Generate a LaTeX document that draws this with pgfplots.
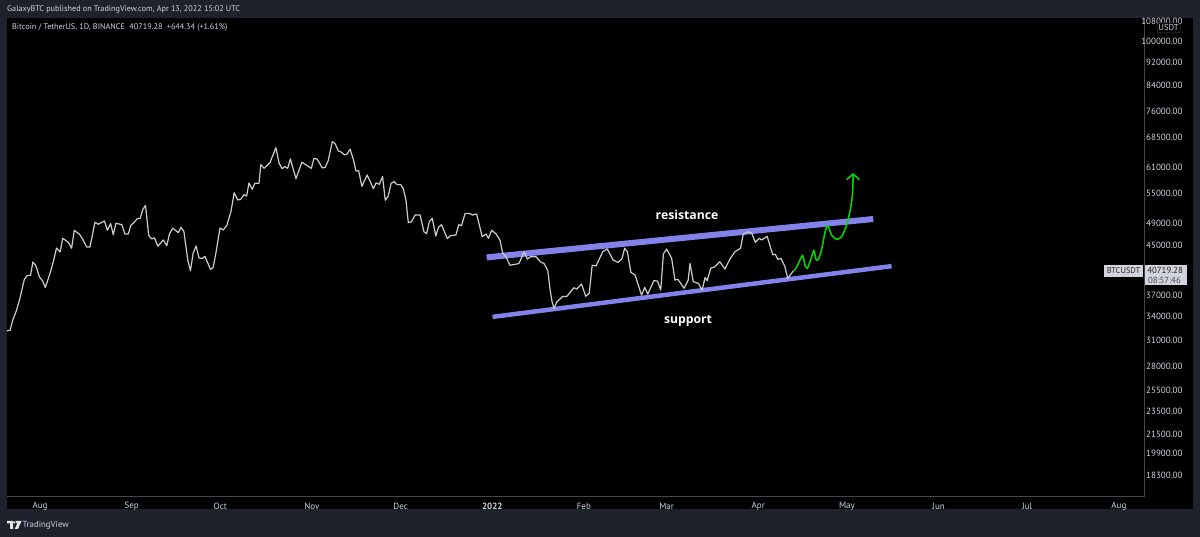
\documentclass[border=0pt]{standalone}
\usepackage{pgfplots}
\usepackage{fontspec}
\setmainfont{PT Sans}
\newfontfamily\boldlabel{Open Sans}
\pgfplotsset{compat=1.18}
\definecolor{framebg}{HTML}{1E222D}
\definecolor{labeltxt}{HTML}{D1D4DC}
\definecolor{axisline}{HTML}{434651}
\definecolor{channel}{HTML}{8282EA}
\definecolor{pricecol}{HTML}{CCCCCC}
\definecolor{greenpath}{HTML}{00DC00}
\begin{document}
\begin{tikzpicture}[x=1pt,y=1pt]
\useasboundingbox (0,0) rectangle (1200,537);
\fill[framebg] (0,0) rectangle (1200,537);
\fill[black] (7,28) rectangle (1193,519);
\begin{axis}[
  at={(7pt,40pt)},anchor=south west,
  scale only axis,width=1137pt,height=479pt,
  xmin=-11.16,xmax=373.5,
  ymode=log,ymin=16796,ymax=109417,
  axis x line*=bottom,axis y line*=right,
  axis line style={draw=axisline,line width=1pt,-},
  major tick length=0pt,minor tick length=0pt,
  xtick={0,31,61,92,122,153,184,212,243,273,304,334,365},
  xticklabels={Aug,Sep,Oct,Nov,Dec,\textbf{2022},Feb,Mar,Apr,May,Jun,Jul,Aug},
  ytick={18300,19900,21500,23500,25500,28000,31000,34000,37000,45000,49000,55000,61000,68500,76000,84000,92000,100000,108000},
  yticklabels={18300.00,19900.00,21500.00,23500.00,25500.00,28000.00,31000.00,34000.00,37000.00,45000.00,49000.00,55000.00,61000.00,68500.00,76000.00,84000.00,92000.00,100000.00,108000.00},
  tick label style={font=\fontsize{9}{10}\selectfont,text=labeltxt},
  yticklabel style={anchor=east,xshift=42pt},
  xticklabel style={anchor=center,yshift=-9pt},
  clip=true,
]
\addplot[channel,line width=6pt] coordinates {(151.1,42880) (281.9,49830)};
\addplot[channel,line width=4.5pt] coordinates {(153.1,33980) (288.1,41440)};
\addplot[pricecol,line width=1.2pt,line join=round] coordinates {
(-11.3,32150)(-10.1,32270)(-9.2,33560)(-7.9,34900)(-6.8,36530)(-5.3,39350)(-4.3,39970)(-3.2,39970)(-2.4,42110)(-1.4,41510)
(-0.2,39750)(0.9,39100)(1.8,38130)(3.4,40280)(4.5,42160)(5.6,44490)(6.8,43800)(7.7,46210)(9.6,45490)(10.7,44440)
(11.6,47680)(13.5,46860)(14.6,45900)(15.8,44660)(16.9,44660)(18.6,49200)(19.7,48820)(21.8,49450)(22.8,47680)(23.9,48940)
(24.8,46860)(25.7,49010)(27.7,48730)(28.7,47000)(29.9,47000)(30.7,48600)(31.8,49130)(32.9,49900)(33.9,49970)(34.7,51620)
(35.7,52570)(36.8,46700)(37.8,46100)(38.7,46300)(39.9,44800)(41.7,45900)(42.9,44900)(43.8,47000)(44.9,48050)(46.8,47250)
(47.7,48250)(48.7,47400)(50,42440)(50.9,40700)(51.8,43570)(52.8,44840)(53.8,42800)(54.9,42700)(55.8,43060)(57.7,40900)
(58.6,41250)(59.5,43570)(60.9,48100)(62,47730)(63.2,48600)(64.6,51280)(65.7,55230)(66.9,53680)(67.9,53800)(69,54800)
(69.9,54500)(70.7,57380)(71.8,55970)(72.7,57300)(74.1,57300)(74.7,61630)(75.8,60770)(77.8,62120)(79.8,65880)(80.9,61970)
(81.9,60680)(82.8,61170)(83.8,60770)(84.7,63030)(86.6,58350)(88.6,62220)(91.8,60770)(92.7,63200)(93.8,62950)(95.5,60850)
(96.5,61000)(97.5,62600)(98.9,67430)(99.8,67000)(100.9,65040)(102,64700)(103,64020)(103.9,64270)(104.9,65470)(106,62950)
(106.9,60130)(107.8,60200)(108.9,56630)(110.7,59200)(112.8,56100)(113.7,57400)(114.8,57080)(115.9,58850)(116.8,53620)(117.8,54500)
(118.8,57300)(119.8,57670)(120.7,57050)(122.1,56970)(122.9,56100)(123.8,53680)(124.6,49130)(125.6,49250)(126.9,50600)(128.6,50600)
(129.9,47400)(130.8,47050)(131.7,49300)(132.7,49970)(133.9,46620)(134.8,48250)(135.8,48730)(137.8,46160)(138.9,46700)(140.7,46800)
(141.7,48730)(142.6,48550)(143.8,50900)(145.5,50900)(146.3,50600)(147.7,50830)(149.6,46500)(150.9,47000)(151.7,46210)(152.8,47680)
(154.3,47000)(155.6,45900)(156.5,43670)(157.6,43000)(159,41580)(162,41850)(163.8,43800)(164.9,42600)(166,43000)(167.8,43000)
(169.4,42100)(170.5,41880)(171.8,40700)(172.5,38000)(173.2,36100)(173.9,35100)(174.8,36000)(176.8,36800)(178.2,36800)(180.6,38080)
(181.6,37890)(183.2,38650)(184.6,36840)(185.8,37240)(186.8,41580)(188.1,41470)(190.4,43850)(191.9,44310)(193.9,42440)(195.6,42050)
(196.9,42720)(197.8,44440)(198.7,43850)(199.9,40440)(201.3,40020)(203.5,37000)(204.6,38130)(205.6,37150)(207.7,39150)(208.9,39100)
(210,37740)(210.9,43480)(212,44310)(213.7,42720)(214.8,39250)(215.8,39350)(217.9,38000)(219.3,39250)(219.9,41880)(221,39000)
(222.7,38750)(224,37740)(225,39640)(225.7,39150)(226.9,41090)(228.3,41350)(230,42160)(231.7,40970)(233.4,42600)(235.1,43850)
(237,44440)(237.9,47000)(239.6,47400)(240.8,47100)(242,45490)(243.3,46210)(244.1,45900)(246,46560)(247.9,43310)(248.7,43430)
(249.6,42560)(250.7,42720)(252,41350)(253,39500)(254.9,40719)
};
\addplot[greenpath,line width=1.5pt,smooth,tension=0.45] coordinates {
(255.2,40700)(256.3,41610)(258,43190)(258.8,41610)(259.6,41090)(260.7,42440)(261.8,44020)(262.5,42560)(263.3,42560)(264.4,44140)
(265.6,47400)(266.5,48550)(267.8,46800)(269.5,46020)(271.2,46500)(272.9,48680)(274.2,51900)(274.9,55100)(275.1,59420)
};
\addplot[greenpath,line width=1.5pt] coordinates {(272.9,58150)(275.1,59420)(277.2,58150)};
\end{axis}
% header and footer text
\node[anchor=west,inner sep=0pt,text=labeltxt,font=\fontsize{8.2}{10}\selectfont] at (7,528) {GalaxyBTC published on TradingView.com, Apr 13, 2022 15:02 UTC};
\node[anchor=west,inner sep=0pt,text=labeltxt,font=\fontsize{8.2}{10}\selectfont] at (12,510) {Bitcoin / TetherUS, 1D, BINANCE\ \ 40719.28\ \ +644.34 (+1.61\%)};
\node[anchor=center,inner sep=0pt,text=white,font=\boldlabel\bfseries\fontsize{12.2}{14}\selectfont] at (687,322) {resistance};
\node[anchor=center,inner sep=0pt,text=white,font=\boldlabel\bfseries\fontsize{12.2}{14}\selectfont] at (688,216) {support};
% USDT badge
\fill[black,draw=axisline,line width=0.5pt,rounded corners=1.5pt] (1157,504) rectangle (1180,514);
\node[text=labeltxt,inner sep=0pt,font=\fontsize{8.6}{10}\selectfont] at (1168.5,509) {USDT};
% last price badges
\fill[labeltxt] (1104,260) rectangle (1143,272);
\node[text=black!85,inner sep=0pt,font=\fontsize{8.4}{10}\selectfont] at (1123.5,266) {BTCUSDT};
\fill[labeltxt] (1145,252) rectangle (1187,272);
\node[text=black!85,inner sep=0pt,anchor=east,font=\fontsize{8.8}{10}\selectfont] at (1183,266.5) {40719.28};
\node[text=black!70,inner sep=0pt,anchor=east,font=\fontsize{8.8}{10}\selectfont] at (1181,257) {08:57:46};
% TradingView logo
\fill[white!90!black] (7,16) -- (7,13.5) -- (10,13.5) -- (10,8) -- (13,8) -- (13,16) -- cycle;
\fill[white!90!black] (14.2,14.6) circle (1.3);
\fill[white!90!black] (15.5,16) -- (21.5,16) -- (18,8) -- (14.8,8) -- (17,13) -- cycle;
\node[anchor=west,inner sep=0pt,text=labeltxt,font=\fontsize{8.8}{11}\selectfont] at (22.5,11.5) {TradingView};
\end{tikzpicture}
\end{document}
